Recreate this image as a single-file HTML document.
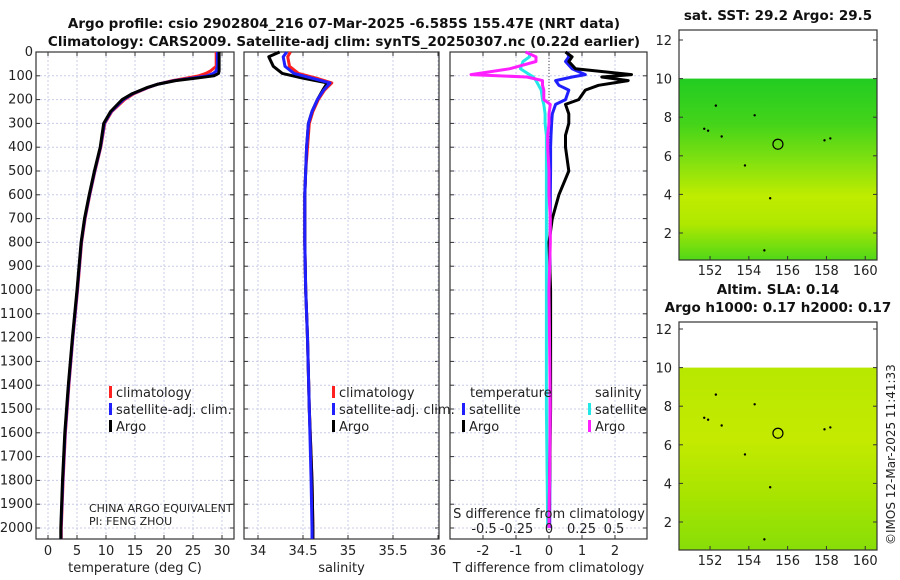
<!DOCTYPE html>
<html><head><meta charset="utf-8"><style>
html,body{margin:0;padding:0;background:#fff;}
svg{display:block;font-family:"DejaVu Sans","Liberation Sans",sans-serif;}
</style></head><body>
<svg id="c" width="900" height="580" viewBox="0 0 900 580"></svg>
<script>
// ---- data ----
const depthT = [0,60,80,90,100,110,120,135,150,175,200,250,300,400,500,600,700,800,1000,1200,1400,1600,1800,2000,2046];
const tempArgo = [29.5,29.5,29.5,29.4,28.6,25.5,22,19,17,14.5,12.8,10.8,9.6,9.0,8.0,7.1,6.3,5.7,5.0,4.2,3.5,2.9,2.5,2.2,2.2];
const tempClim = [29.0,29.0,28.0,27.2,26,23.8,21.5,19,17.2,14.8,13.2,11.0,9.8,9.1,8.1,7.2,6.4,5.8,5.1,4.3,3.6,3.0,2.6,2.3,2.3];
const tempSat  = [29.2,29.2,29.0,28.5,27.5,24.8,21.8,19,17.1,14.6,13.0,10.9,9.7,9.05,8.05,7.15,6.35,5.75,5.05,4.25,3.55,2.95,2.55,2.25,2.25];
const depthS = [0,20,60,90,110,130,160,200,250,300,400,500,600,800,1000,1200,1500,1800,2000,2046];
const salArgo = [34.24,34.12,34.17,34.27,34.5,34.77,34.72,34.66,34.6,34.56,34.54,34.53,34.52,34.52,34.53,34.55,34.57,34.6,34.61,34.61];
const salClim = [34.36,34.33,34.35,34.45,34.65,34.82,34.74,34.67,34.61,34.57,34.55,34.53,34.52,34.52,34.53,34.55,34.57,34.6,34.61,34.61];
const salSat  = [34.32,34.28,34.3,34.4,34.6,34.8,34.73,34.66,34.6,34.56,34.54,34.53,34.52,34.52,34.53,34.55,34.57,34.59,34.6,34.6];
const depthD = [0,20,40,70,95,105,120,140,160,200,220,260,300,350,400,500,600,700,800,1000,1500,2000];
const dTArgo = [0.5,0.7,0.6,0.8,2.5,1.6,2.4,1.5,1.1,0.9,0.5,0.6,0.6,0.5,0.5,0.6,0.3,0.1,0.0,0.05,0.05,0.0];
const dTSat  = [0.55,0.6,0.5,0.7,1.1,0.7,0.2,0.3,0.6,0.5,0.2,0.1,0.08,0.06,0.05,0.05,0.04,0.04,0.03,0.03,0.03,0.02];
const dSSat  = [-0.15,-0.15,-0.2,-0.22,-0.15,-0.12,-0.1,-0.08,-0.06,-0.05,-0.04,-0.03,-0.03,-0.02,-0.02,-0.02,-0.02,-0.02,-0.02,-0.02,-0.02,-0.01];
const dSArgo = [-0.18,-0.1,-0.1,-0.3,-0.6,-0.17,-0.05,-0.05,-0.04,-0.04,0.01,0.0,0.0,-0.01,-0.01,0,0,0.01,0.01,0.0,0.01,0.0];
const depthTicks = [0,100,200,300,400,500,600,700,800,900,1000,1100,1200,1300,1400,1500,1600,1700,1800,1900,2000];
const tTicks = [0,5,10,15,20,25,30];
const sTicks = [34,34.5,35,35.5,36];
const dtTicks = [-2,-1,0,1,2];
const dsTicks = [-0.5,-0.25,0,0.25,0.5];
const lonTicks = [152,154,156,158,160];
const latTicks = [2,4,6,8,10,12];
const dots = [[151.7,7.4],[151.9,7.3],[152.6,7.0],[153.8,5.5],[154.3,8.1],[158.2,6.9],[157.9,6.8],[152.3,8.6],[154.8,1.1],[155.1,3.8]];
const argoPos = [155.5,6.6];

const svg = document.getElementById('c');
const NS = 'http://www.w3.org/2000/svg';
function mk(tag, attrs, parent){ const e=document.createElementNS(NS,tag); for(const k in attrs) e.setAttribute(k,attrs[k]); (parent||svg).appendChild(e); return e; }
function txt(s,x,y,opt,parent){ const e=mk('text',Object.assign({x:x,y:y,'font-size':13,fill:'#222'},opt||{}),parent); e.textContent=s; return e; }

const TOP=52, BOT=539;
const yD = d => 52 + d*0.238;
const P1={x0:36,x1:234}, P2={x0:244,x1:439}, P3={x0:450,x1:647};
const xT = v => 48 + v*5.8;
const xS = v => 258 + (v-34)*90;
const xDT = v => 549 + v*33;
const xDS = v => 549 + v*130;

function panel(P, name, xticks, xf, xlabel, tickFmt){
  const g = mk('g',{});
  
  
  depthTicks.forEach(d=>{ mk('line',{x1:P.x0,x2:P.x1,y1:yD(d),y2:yD(d),stroke:'#c8cce8','stroke-dasharray':'2,2','stroke-width':1},g);
    mk('line',{x1:P.x0,x2:P.x0+4,y1:yD(d),y2:yD(d),stroke:'#333'},g); mk('line',{x1:P.x1-4,x2:P.x1,y1:yD(d),y2:yD(d),stroke:'#333'},g);});
  xticks.forEach(t=>{ const x=xf(t); mk('line',{x1:x,x2:x,y1:TOP,y2:BOT,stroke:'#c8cce8','stroke-dasharray':'2,2'},g);
    mk('line',{x1:x,x2:x,y1:BOT-4,y2:BOT,stroke:'#333'},g); mk('line',{x1:x,x2:x,y1:TOP,y2:TOP+4,stroke:'#333'},g);
    if(tickFmt) { const l=txt(tickFmt(t),x,555,{'text-anchor':'middle'},g);   }});
  mk('rect',{x:P.x0,y:TOP,width:P.x1-P.x0,height:BOT-TOP,fill:'none',stroke:'#333','stroke-width':1.2},g);
  const xl=txt(xlabel,(P.x0+P.x1)/2,572,{'text-anchor':'middle'},g);
   
  return g;
}
function line(depths, vals, xf, color, name, w){
  const pts = depths.map((d,i)=>xf(vals[i]).toFixed(1)+','+yD(d).toFixed(1)).join(' ');
  const p = mk('polyline',{points:pts,fill:'none',stroke:color,'stroke-width':w||3,'stroke-linejoin':'round'});
  
  
}
function legItem(x,y,color,label,name){
  mk('rect',{x:x,y:y-11,width:3,height:12,fill:color});
  const t=txt(label,x+7,y);
   
}

// Panel 1
panel(P1,'temperature-panel',tTicks,xT,'temperature (deg C)',t=>String(t));
depthTicks.forEach(d=>{ const l=txt(String(d),33,yD(d)+4,{'text-anchor':'end'});  });
line(depthT,tempClim,xT,'#ff2020','temp-climatology-line');
line(depthT,tempSat,xT,'#2020ff','temp-satellite-line');
line(depthT,tempArgo,xT,'#000','temp-argo-line');
legItem(109,397,'#ff2020','climatology','legend-climatology');
legItem(109,414,'#2020ff','satellite-adj. clim.','legend-satellite');
legItem(109,431,'#000','Argo','legend-argo');
txt('CHINA ARGO EQUIVALENT',89,512,{'font-size':11});
txt('PI: FENG ZHOU',89,525,{'font-size':11});

// Panel 2
panel(P2,'salinity-panel',sTicks,xS,'salinity',t=>String(t));
line(depthS,salClim,xS,'#ff2020','sal-climatology-line');
line(depthS,salArgo,xS,'#000','sal-argo-line');
line(depthS,salSat,xS,'#2020ff','sal-satellite-line');
legItem(332,397,'#ff2020','climatology','legend-climatology-2');
legItem(332,414,'#2020ff','satellite-adj. clim.','legend-satellite-2');
legItem(332,431,'#000','Argo','legend-argo-2');

// Panel 3
panel(P3,'difference-panel',dtTicks,xDT,'T difference from climatology',t=>String(t));
mk('line',{x1:xDT(0),x2:xDT(0),y1:TOP,y2:BOT,stroke:'#444','stroke-dasharray':'1,2'});
line(depthD,dSSat,xDS,'#22e8e8','ds-satellite-line');
line(depthD,dTSat,xDT,'#2020ff','dt-satellite-line');
line(depthD,dTArgo,xDT,'#000','dt-argo-line');
line(depthD,dSArgo,xDS,'#ff20ff','ds-argo-line');
txt('temperature',470,397);
txt('salinity',595,397);
legItem(462,414,'#2020ff','satellite','legend-t-satellite');
legItem(462,431,'#000','Argo','legend-t-argo');
legItem(588,414,'#22e8e8','satellite','legend-s-satellite');
legItem(588,431,'#ff20ff','Argo','legend-s-argo');
txt('S difference from climatology',549,518,{'text-anchor':'middle'});
dsTicks.forEach(t=>{ txt(String(t),xDS(t),533,{'text-anchor':'middle'}); });

// Titles
txt('Argo profile: csio 2902804_216 07-Mar-2025 -6.585S 155.47E (NRT data)',344,28,{'text-anchor':'middle','font-weight':'bold','font-size':13.5,fill:'#111'});
txt('Climatology: CARS2009. Satellite-adj clim: synTS_20250307.nc (0.22d earlier)',344,46,{'text-anchor':'middle','font-weight':'bold','font-size':13.5,fill:'#111'});

// Maps
const lonX = v => 679 + (v-150.4)*19.4;
function map(y0, y1, lat12y, name, title1, title2, stops){
  const latY = v => lat12y + (12-v)*19.3;
  const g=mk('g',{});  
  const id=name+'-grad';
  const defs=mk('defs',{},g); const lg=mk('linearGradient',{id:id,x1:0,y1:0,x2:0,y2:1},defs);
  stops.forEach(s=>mk('stop',{offset:s[0],'stop-color':s[1]},lg));
  mk('rect',{x:679,y:latY(10),width:877-679,height:y1-latY(10),fill:'url(#'+id+')'},g);
  dots.forEach(p=>mk('circle',{cx:lonX(p[0]),cy:latY(p[1]),r:1.2,fill:'#000'},g));
  mk('circle',{cx:lonX(argoPos[0]),cy:latY(argoPos[1]),r:5,fill:'none',stroke:'#000','stroke-width':1.2},g);
  mk('rect',{x:679,y:y0,width:198,height:y1-y0,fill:'none',stroke:'#333','stroke-width':1.2},g);
  latTicks.forEach(t=>{ const y=latY(t); mk('line',{x1:679,x2:683,y1:y,y2:y,stroke:'#333'},g); mk('line',{x1:873,x2:877,y1:y,y2:y,stroke:'#333'},g);
    txt(String(t),672,y+5,{'text-anchor':'end'},g);});
  lonTicks.forEach(t=>{ const x=lonX(t); mk('line',{x1:x,x2:x,y1:y1-4,y2:y1,stroke:'#333'},g); txt(String(t),x,y1+15,{'text-anchor':'middle'},g);});
  if(title2) txt(title2,778,y0-10,{'text-anchor':'middle','font-weight':'bold','font-size':13.5,fill:'#111'},g);
  txt(title1,778,title2?y0-28:y0-10,{'text-anchor':'middle','font-weight':'bold','font-size':13.5,fill:'#111'},g);
}
map(30,260,40,'sst-map','sat. SST: 29.2 Argo: 29.5',null,[[0,'#22cc22'],[0.25,'#44d41a'],[0.45,'#80e010'],[0.65,'#c0ec00'],[0.8,'#b0e800'],[1,'#50d818']]);
map(322,550,329,'sla-map','Altim. SLA: 0.14','Argo h1000: 0.17 h2000: 0.17',[[0,'#b8e800'],[0.4,'#c4ea00'],[0.7,'#a8e400'],[1,'#88de08']]);
const cr=txt('©IMOS 12-Mar-2025 11:41:33',895,545,{'font-size':12,transform:'rotate(-90 895 545)'});
 
</script>
</body></html>
